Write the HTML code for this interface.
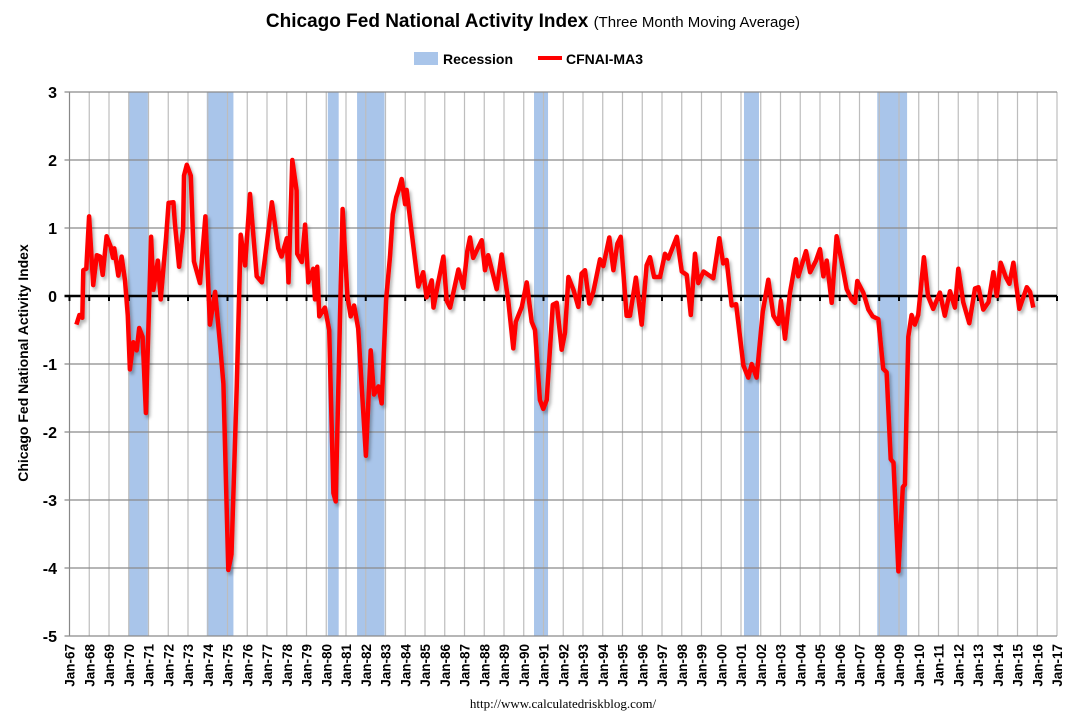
<!DOCTYPE html>
<html><head><meta charset="utf-8">
<style>
body{margin:0;background:#fff;}
svg{display:block;font-family:"Liberation Sans",sans-serif;}
</style></head>
<body>
<svg id="chart" width="1066" height="722" viewBox="0 0 1066 722" xmlns="http://www.w3.org/2000/svg">
<defs><filter id="sh" x="-5%" y="-5%" width="110%" height="110%"><feDropShadow dx="2" dy="3" stdDeviation="1.5" flood-color="#000" flood-opacity="0.3"/></filter></defs>
<text x="533" y="27" text-anchor="middle" font-size="19" font-weight="bold">Chicago Fed National Activity Index <tspan font-size="15" font-weight="normal">(Three Month Moving Average)</tspan></text>
<g>
<rect x="414" y="52" width="24" height="13" fill="#a9c5ea"/>
<text x="443" y="64" font-size="14" font-weight="bold">Recession</text>
<line x1="538" y1="58" x2="562" y2="58" stroke="#f00" stroke-width="4"/>
<text x="566" y="64" font-size="14" font-weight="bold">CFNAI-MA3</text>
</g>
<text transform="translate(28,363) rotate(-90)" text-anchor="middle" font-size="14" font-weight="bold">Chicago Fed National Activity Index</text>
<g id="bands"></g><g id="grid"></g><g id="axes"></g><g id="series"></g>
<text x="563" y="708" text-anchor="middle" font-size="13" font-family="Liberation Serif, serif">http://www.calculatedriskblog.com/</text>
</svg>
<script>
const yearTicks=[];for(let y=1967;y<=2017;y++)yearTicks.push(y);
const valueTicks=[3,2,1,0,-1,-2,-3,-4,-5];
const recessionStarts=[1970.0,1973.95,1980.08,1981.56,1990.52,2001.15,2007.9];
const recessionEnds=[1970.97,1975.3,1980.63,1982.95,1991.23,2001.91,2009.41];
const dates=[1967.35,1967.5,1967.65,1967.7,1967.85,1967.99,1968.2,1968.38,1968.55,1968.68,1968.88,1969.09,1969.2,1969.27,1969.47,1969.64,1969.81,1969.95,1970.06,1970.23,1970.4,1970.53,1970.7,1970.87,1971.13,1971.25,1971.47,1971.62,1971.89,1972.02,1972.26,1972.34,1972.55,1972.75,1972.8,1972.94,1973.14,1973.3,1973.61,1973.88,1974.11,1974.37,1974.62,1974.79,1975.04,1975.2,1975.47,1975.67,1975.89,1976.14,1976.48,1976.74,1976.98,1977.25,1977.57,1977.74,1978.0,1978.09,1978.28,1978.5,1978.53,1978.76,1978.93,1979.09,1979.34,1979.43,1979.54,1979.65,1979.93,1980.15,1980.36,1980.48,1980.7,1980.83,1981.07,1981.24,1981.41,1981.62,1982.01,1982.25,1982.42,1982.64,1982.81,1983.03,1983.23,1983.37,1983.54,1983.66,1983.82,1983.99,1984.07,1984.33,1984.66,1984.91,1985.08,1985.34,1985.43,1985.67,1985.93,1986.1,1986.27,1986.69,1986.94,1987.14,1987.28,1987.44,1987.87,1988.04,1988.2,1988.63,1988.88,1989.22,1989.47,1989.6,1989.9,1990.15,1990.4,1990.57,1990.82,1990.99,1991.16,1991.47,1991.67,1991.92,1992.09,1992.26,1992.52,1992.76,1992.93,1993.1,1993.32,1993.52,1993.86,1994.03,1994.33,1994.54,1994.74,1994.91,1995.21,1995.38,1995.68,1995.97,1996.22,1996.39,1996.6,1996.9,1997.15,1997.32,1997.75,1998.0,1998.25,1998.46,1998.67,1998.84,1999.1,1999.6,1999.9,2000.1,2000.27,2000.53,2000.75,2001.12,2001.37,2001.54,2001.79,2002.1,2002.38,2002.64,2002.9,2003.02,2003.23,2003.48,2003.78,2003.9,2004.29,2004.5,2004.8,2005.0,2005.17,2005.34,2005.59,2005.84,2006.1,2006.35,2006.6,2006.77,2006.89,2007.19,2007.45,2007.67,2007.95,2008.2,2008.37,2008.58,2008.72,2008.97,2009.19,2009.3,2009.47,2009.64,2009.8,2009.97,2010.26,2010.47,2010.73,2011.07,2011.32,2011.58,2011.83,2012.0,2012.25,2012.56,2012.85,2013.02,2013.27,2013.53,2013.78,2013.95,2014.15,2014.42,2014.59,2014.79,2015.09,2015.47,2015.64,2015.8];
const values=[-0.42,-0.28,-0.32,0.38,0.4,1.17,0.16,0.6,0.58,0.31,0.88,0.72,0.56,0.7,0.3,0.58,0.23,-0.29,-1.08,-0.68,-0.8,-0.47,-0.6,-1.72,0.87,0.09,0.52,-0.05,0.86,1.37,1.38,1.05,0.43,1.0,1.77,1.93,1.77,0.51,0.19,1.17,-0.42,0.06,-0.7,-1.29,-4.03,-3.8,-1.3,0.9,0.45,1.5,0.29,0.2,0.75,1.38,0.7,0.58,0.85,0.2,2.0,1.55,0.62,0.5,1.05,0.2,0.4,-0.05,0.43,-0.3,-0.17,-0.5,-2.9,-3.02,-0.25,1.28,0.0,-0.3,-0.14,-0.48,-2.35,-0.8,-1.45,-1.33,-1.58,-0.06,0.58,1.2,1.45,1.55,1.72,1.35,1.56,0.92,0.14,0.35,-0.02,0.23,-0.17,0.2,0.58,-0.07,-0.17,0.39,0.12,0.66,0.86,0.56,0.82,0.38,0.6,0.1,0.61,-0.07,-0.77,-0.38,-0.16,0.2,-0.38,-0.5,-1.53,-1.66,-1.53,-0.13,-0.1,-0.79,-0.54,0.28,0.09,-0.16,0.33,0.38,-0.11,0.06,0.54,0.44,0.86,0.38,0.77,0.87,-0.29,-0.29,0.27,-0.42,0.45,0.57,0.28,0.28,0.62,0.55,0.87,0.36,0.31,-0.28,0.62,0.19,0.36,0.26,0.85,0.48,0.53,-0.14,-0.12,-1.02,-1.2,-1.0,-1.2,-0.24,0.24,-0.29,-0.41,-0.07,-0.63,0.05,0.54,0.29,0.66,0.35,0.52,0.69,0.29,0.52,-0.1,0.88,0.5,0.1,-0.05,-0.1,0.22,0.05,-0.2,-0.3,-0.34,-1.07,-1.12,-2.4,-2.45,-4.05,-2.81,-2.77,-0.6,-0.28,-0.42,-0.28,0.57,0.0,-0.19,0.05,-0.29,0.07,-0.17,0.4,-0.09,-0.4,0.11,0.13,-0.2,-0.09,0.35,0.0,0.49,0.27,0.18,0.49,-0.19,0.13,0.06,-0.17];

const X0=69.5,X1=1057,Y0=92,Y1=636;
const xs=t=>X0+(t-1967)/(2017-1967)*(X1-X0);
const ys=v=>Y0+(3-v)/8*(Y1-Y0);
const NS="http://www.w3.org/2000/svg";
function mk(tag,attrs,parent){const e=document.createElementNS(NS,tag);for(const k in attrs)e.setAttribute(k,attrs[k]);parent.appendChild(e);return e;}
const bands=document.getElementById('bands'),grid=document.getElementById('grid'),axes=document.getElementById('axes'),series=document.getElementById('series');
recessionStarts.forEach((s,i)=>{
  const r=mk('rect',{x:xs(s),y:Y0,width:xs(recessionEnds[i])-xs(s),height:Y1-Y0,fill:'#a9c5ea'},bands);
  
  
});
yearTicks.forEach((y,i)=>{
  const l=mk('line',{x1:xs(y),x2:xs(y),y1:Y0,y2:Y1,stroke:i==0?'#888':'#bdbdbd','stroke-width':1.2},grid);
  
  
  const tk=mk('line',{x1:xs(y),x2:xs(y),y1:ys(0),y2:ys(0)+5,stroke:'#000','stroke-width':2},axes);
  
  
  const lab=mk('text',{transform:`translate(${xs(y)+5},${Y1+8}) rotate(-90)`,'text-anchor':'end','font-size':13.5,'font-weight':'bold'},axes);
  lab.textContent='Jan-'+String(y%100).padStart(2,'0');
  
  
});
valueTicks.forEach(v=>{
  if(v!==0){const g=mk('line',{x1:X0-5,x2:X1,y1:ys(v),y2:ys(v),stroke:'#8a8a8a','stroke-width':1.2},grid);
  
  }
  const t=mk('text',{x:57,y:ys(v)+6,'text-anchor':'end','font-size':16,'font-weight':'bold'},axes);
  t.textContent=v;
  
  
});
const z=mk('line',{x1:X0-5,x2:X1,y1:ys(0),y2:ys(0),stroke:'#000','stroke-width':2.5},axes);


const p=mk('path',{d:dates.map((d,i)=>(i?'L':'M')+xs(d).toFixed(1)+' '+ys(values[i]).toFixed(1)).join(''),fill:'none',stroke:'#f00','stroke-width':4.5,'stroke-linejoin':'round',filter:'url(#sh)'},series);


</script>
</body></html>
